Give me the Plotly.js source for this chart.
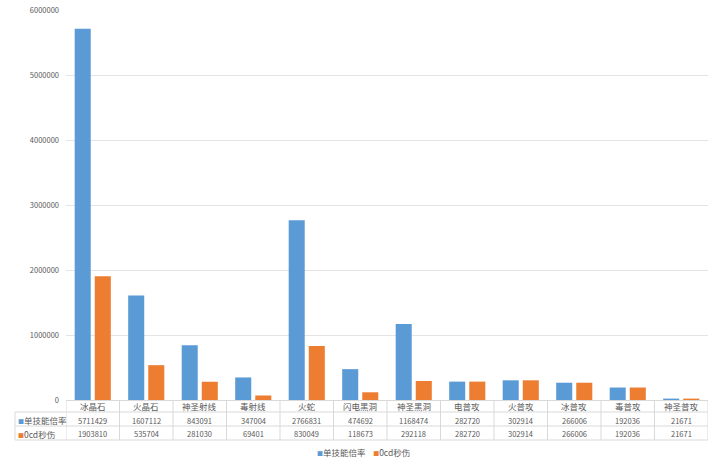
<!DOCTYPE html>
<html>
<head>
<meta charset="utf-8">
<script src="https://cdn.plot.ly/plotly-3.0.1.min.js"></script>
<style>html,body{margin:0;padding:0;background:#fff}#chart{width:720px;height:466px}</style>
</head>
<body>
<div id="chart"></div>
<script>
const categories = ['冰晶石','火晶石','神圣射线','毒射线','火蛇','闪电黑洞','神圣黑洞','电普攻','火普攻','冰普攻','毒普攻','神圣普攻'];
const seriesNames = ['单技能倍率','0cd秒伤'];
const skillRate = [5711429,1607112,843091,347004,2766831,474692,1168474,282720,302914,266006,192036,21671];
const cdDps = [1903810,535704,281030,69401,830049,118673,292118,282720,302914,266006,192036,21671];
const yTicks = [0,1000000,2000000,3000000,4000000,5000000,6000000];
const colors = ['#5b9bd5','#ed7d31'];

const W = 720, H = 466, L = 66, R = 12, T = 10, B = 66;
const pw = W - L - R, ph = H - T - B;
const px2x = p => (p - L) / pw;
const py2y = p => (H - B - p) / ph;

const font = {family: '"Noto Sans CJK SC", "Microsoft YaHei", sans-serif', color: '#595959'};

const traces = [
  {type:'bar', name: seriesNames[0], x: categories, y: skillRate, marker:{color: colors[0]}},
  {type:'bar', name: seriesNames[1], x: categories, y: cdDps, marker:{color: colors[1]}}
];

const annotations = [];
const rowY = [406, 420, 434];
const ann = o => Object.assign({showarrow:false, yanchor:'middle', xanchor:'center', yref:'paper'}, o);
categories.forEach((c, i) => {
  annotations.push(ann({x: i, xref:'x', y: py2y(rowY[0]), text: c, font:{...font, size:8.5}}));
  annotations.push(ann({x: i, xref:'x', y: py2y(rowY[1]), text: String(skillRate[i]), font:{...font, size:7.5}}));
  annotations.push(ann({x: i, xref:'x', y: py2y(rowY[2]), text: String(cdDps[i]), font:{...font, size:7.5}}));
});
[[seriesNames[0], colors[0], rowY[1]], [seriesNames[1], colors[1], rowY[2]]].forEach(([n, col, yy]) => {
  annotations.push(ann({x: px2x(16), xref:'paper', xanchor:'left', y: py2y(yy),
    text: '<span style="color:' + col + ';font-size:6px">■</span>' + n, font:{...font, size:8.5}}));
});
// legend drawn as a text line
annotations.push(ann({x: px2x(363), xref:'paper', y: py2y(452),
  text: '<span style="color:' + colors[0] + ';font-size:6px">■</span>' + seriesNames[0] + '    ' +
        '<span style="color:' + colors[1] + ';font-size:6px">■</span>' + seriesNames[1],
  font:{...font, size:8.5}}));

const lineStyle = {color:'#d9d9d9', width:1};
const shapes = [];
[[412, 15], [426, 15], [440, 15]].forEach(([yy, x0]) => {
  shapes.push({type:'line', xref:'paper', yref:'paper', x0: px2x(x0), x1: 1, y0: py2y(yy), y1: py2y(yy), line: lineStyle});
});
shapes.push({type:'line', xref:'paper', yref:'paper', x0: px2x(15), x1: px2x(15), y0: py2y(412), y1: py2y(440), line: lineStyle});
for (let i = 0; i <= categories.length; i++) {
  shapes.push({type:'line', xref:'x', yref:'paper', x0: i - 0.5, x1: i - 0.5, y0: 0, y1: py2y(440), line: lineStyle});
}

const layout = {
  width: W, height: H,
  margin: {l: L, r: R, t: T, b: B, autoexpand: false},
  paper_bgcolor: '#ffffff', plot_bgcolor: '#ffffff',
  barmode: 'group', bargap: 0.25, bargroupgap: 0.2,
  showlegend: false,
  xaxis: {type:'category', range:[-0.5, categories.length - 0.5], showticklabels:false, showgrid:false,
    showline:true, linecolor:'#d9d9d9', linewidth:1, zeroline:false, fixedrange:true, automargin:false},
  yaxis: {range:[0, 6000000], tickvals: yTicks, ticktext: yTicks.map(String), showgrid:true, gridcolor:'#e4e4e4',
    gridwidth:1, zeroline:false, showline:false, tickfont:{...font, size:7.5}, ticks:'', ticklabelstandoff: 6, automargin:false},
  font: font,
  annotations: annotations,
  shapes: shapes
};

Plotly.newPlot('chart', traces, layout, {displayModeBar:false, staticPlot:true});
</script>
</body>
</html>
